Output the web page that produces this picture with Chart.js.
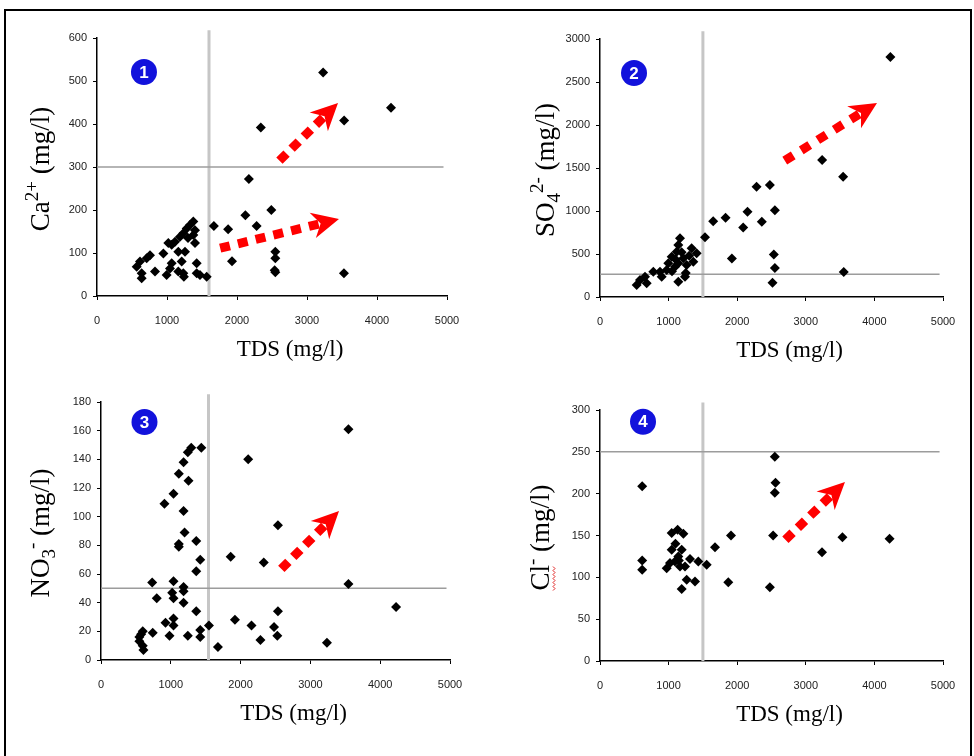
<!DOCTYPE html>
<html>
<head>
<meta charset="utf-8">
<script src="https://cdn.jsdelivr.net/npm/chart.js@4.4.1/dist/chart.umd.min.js"></script>
<style>
  html, body { margin: 0; padding: 0; background: #fff; }
  body { width: 974px; height: 756px; position: relative; overflow: hidden; }
  #frame { position: absolute; left: 4px; top: 9px; width: 964px; height: 800px; border: 2px solid #000; }
  canvas { position: absolute; }
</style>
</head>
<body>
<div id="frame"></div>
<canvas id="pCa"></canvas>
<canvas id="pSo4"></canvas>
<canvas id="pNo3"></canvas>
<canvas id="pCl"></canvas>
<script>
// tick labels
const xTicks = [0, 1000, 2000, 3000, 4000, 5000];
const caTicks = [0, 100, 200, 300, 400, 500, 600];
const so4Ticks = [0, 500, 1000, 1500, 2000, 2500, 3000];
const no3Ticks = [0, 20, 40, 60, 80, 100, 120, 140, 160, 180];
const clTicks = [0, 50, 100, 150, 200, 250, 300];

// panel 1 : Ca2+ vs TDS
const tdsCa = [3230, 4200, 3530, 2340, 2170, 2120, 2490, 2280, 1670, 1873, 1929, 2547, 2547, 2538, 2547, 3528, 1567,
  1376, 1329, 1281, 1400, 1233, 1376, 1186, 1114, 1067, 1400, 1019, 1162, 1257, 948, 757, 710, 614, 567,
  1067, 1210, 1424, 1043, 829, 638, 995, 1162, 1233, 1424, 1471, 638, 1241, 1300];
const ca = [520, 438, 408, 392, 272, 188, 200, 163, 163, 155, 81, 103, 88, 60, 55, 53, 45,
  173, 165, 157, 153, 146, 142, 138, 126, 119, 123, 123, 103, 103, 99, 95, 88, 80, 68,
  76, 80, 76, 64, 57, 53, 49, 57, 53, 53, 49, 41, 45, 135];

// panel 2 : SO4 2- vs TDS
const tdsSo4 = [4233, 3238, 3544, 2282, 2476, 2549, 2150, 2359, 1830, 1650, 2087, 1531, 1922, 2534, 2549, 2515, 3553,
  1166, 1142, 1118, 1336, 1409, 1045, 1215, 1360, 996, 1142, 1263, 972, 1093, 875, 777, 899, 1239, 1142,
  656, 583, 535, 681, 1100, 1300, 1190, 1050, 1250];
const so4 = [2790, 1593, 1399, 1282, 1302, 1010, 991, 874, 921, 882, 808, 694, 447, 494, 338, 167, 291,
  682, 605, 527, 566, 508, 469, 450, 411, 392, 392, 372, 314, 352, 294, 294, 236, 236, 178,
  236, 198, 140, 159, 440, 480, 520, 300, 280];

// panel 3 : NO3- vs TDS
const tdsNo3 = [3545, 2109, 4227, 3545, 2535, 2535, 2332, 1858, 1919, 2156, 2284, 2479, 2526, 3237, 1675,
  1437, 1293, 1244, 1183, 1115, 1254, 1039, 909, 1183, 1197, 1115, 1115, 1365, 1422, 1365, 733, 1039,
  1183, 1183, 799, 1039, 1183, 1365, 1039, 924, 1039, 981, 1244, 1422, 1422, 1546, 741, 598, 550, 550,
  598, 608, 575, 1020];
const no3 = [161, 140, 37, 53, 94, 34, 68, 72, 28, 24, 14, 23, 17, 12, 9,
  148, 148, 145, 138, 130, 125, 116, 109, 104, 89, 81, 79, 83, 70, 62, 54, 55,
  51, 48, 43, 43, 40, 34, 29, 26, 24, 17, 17, 21, 16, 24, 19, 20, 16, 13,
  10, 7, 18, 47];

// panel 4 : Cl- vs TDS
const tdsCl = [2548, 2558, 2548, 2524, 2476, 1910, 1870, 1676, 3534, 3236, 4221, 615, 615, 615,
  1132, 1045, 1215, 1045, 1191, 1142, 1312, 1433, 1555, 1020, 1093, 1239, 972, 1166, 1264, 1385, 1191, 1100, 1150];
const cl = [244, 213, 201, 150, 88, 150, 94, 136, 148, 130, 146, 209, 120, 109,
  157, 153, 152, 133, 133, 125, 122, 119, 115, 117, 119, 113, 111, 113, 97, 95, 86, 140, 120];

// guide lines (TDS limit, ion limit)
const limitsCa = [1600, 300];
const limitsSo4 = [1500, 265];
const limitsNo3 = [1540, 50];
const limitsCl = [1500, 250];

// red trend arrows: [x0, y0, x1, y1] in data units
const arrowsCa = [[2657, 323, 3443, 449], [1829, 114, 3457, 179]];
const arrowsSo4 = [[2755, 1616, 4038, 2256]];
const arrowsNo3 = [[2634, 66, 3410, 104]];
const arrowsCl = [[2755, 149, 3571, 214]];

// numbered badges: [x, y] in data units
const badgeCa = [671, 521];
const badgeSo4 = [496, 2605];
const badgeNo3 = [623, 166];
const badgeCl = [627, 286];

const SERIF = "'Liberation Serif', 'Times New Roman', serif";
const SANS = "'Liberation Sans', Arial, sans-serif";

function drawArrow(ctx, sx, sy, tx, ty) {
  const dx = tx - sx, dy = ty - sy, len = Math.hypot(dx, dy);
  const ux = dx / len, uy = dy / len, nx = -uy, ny = ux;
  const headL = 27, headW = 13, dash = 10;
  const bx = tx - ux * headL, by = ty - uy * headL;
  // shaft from the first square to just before the head, dashes fitted to length
  const x0 = sx - ux * 5, y0 = sy - uy * 5;
  const x1 = bx + ux * 6, y1 = by + uy * 6;
  const L = Math.hypot(x1 - x0, y1 - y0);
  const n = Math.max(2, Math.round((L + 9) / (dash + 9)));
  const gap = (L - n * dash) / (n - 1);
  ctx.save();
  ctx.strokeStyle = '#ff0000';
  ctx.fillStyle = '#ff0000';
  ctx.lineWidth = 9;
  ctx.setLineDash([dash, gap]);
  ctx.beginPath();
  ctx.moveTo(x0, y0);
  ctx.lineTo(x1, y1);
  ctx.stroke();
  ctx.setLineDash([]);
  ctx.beginPath();
  ctx.moveTo(tx, ty);
  ctx.lineTo(bx + nx * headW, by + ny * headW);
  ctx.lineTo(tx - ux * headL * 0.7, ty - uy * headL * 0.7);
  ctx.lineTo(bx - nx * headW, by - ny * headW);
  ctx.closePath();
  ctx.fill();
  ctx.restore();
}

// rotated y title made of normal / sup / sub pieces
function drawYTitle(ctx, cx, cy, parts, squiggle) {
  ctx.save();
  ctx.translate(cx, cy);
  ctx.rotate(-Math.PI / 2);
  ctx.fillStyle = '#000';
  ctx.textBaseline = 'alphabetic';
  const fontOf = p => (p.s ? '19px ' : '27px ') + SERIF;
  let total = 0;
  parts.forEach(p => { ctx.font = fontOf(p); total += ctx.measureText(p.t).width; });
  let x = -total / 2;
  parts.forEach((p, i) => {
    ctx.font = fontOf(p);
    const off = p.s === 'sup' ? -11 : p.s === 'sub' ? 6 : 0;
    ctx.fillText(p.t, x, 9 + off);
    const w = ctx.measureText(p.t).width;
    if (squiggle && i === 0) {
      ctx.strokeStyle = '#e02020';
      ctx.lineWidth = 1;
      ctx.beginPath();
      for (let k = 0; k <= w; k += 2) {
        const yy = 13 + (k % 4 === 0 ? 0 : 2);
        if (k === 0) ctx.moveTo(x + k, yy); else ctx.lineTo(x + k, yy);
      }
      ctx.stroke();
    }
    x += w;
  });
  ctx.restore();
}

function makePanel(id, box, cfg) {
  const cv = document.getElementById(id);
  const padL = 90, padT = 25, padR = 30, padB = 80, yW = 40, xH = 30;
  cv.width = box.r - box.l + padL + padR;
  cv.height = box.b - box.t + padT + padB;
  cv.style.left = (box.l - padL) + 'px';
  cv.style.top = (box.t - padT) + 'px';

  const yMax = cfg.yTicks[cfg.yTicks.length - 1];
  const pts = cfg.xs.map((x, i) => ({ x: x, y: cfg.ys[i] }));

  const decor = {
    id: 'decor' + id,
    afterDatasetsDraw(chart) {
      const ctx = chart.ctx, sx = chart.scales.x, sy = chart.scales.y, a = chart.chartArea;
      cfg.arrows.forEach(r => drawArrow(ctx,
        sx.getPixelForValue(r[0]), sy.getPixelForValue(r[1]),
        sx.getPixelForValue(r[2]), sy.getPixelForValue(r[3])));
      // badge
      const bx = sx.getPixelForValue(cfg.badge[0]), by = sy.getPixelForValue(cfg.badge[1]);
      ctx.save();
      ctx.fillStyle = '#1212dc';
      ctx.beginPath();
      ctx.arc(bx, by, 13, 0, Math.PI * 2);
      ctx.fill();
      ctx.fillStyle = '#fff';
      ctx.font = 'bold 17px ' + SANS;
      ctx.textAlign = 'center';
      ctx.textBaseline = 'middle';
      ctx.fillText(cfg.num, bx, by + 1);
      // x title
      ctx.fillStyle = '#000';
      ctx.font = '23px ' + SERIF;
      ctx.fillText('TDS (mg/l)', (a.left + a.right) / 2 + 18, a.bottom + 54);
      ctx.restore();
      drawYTitle(ctx, a.left + cfg.yTitleDx, (a.top + a.bottom) / 2 + 2, cfg.yTitle, cfg.squiggle);
    }
  };

  const tickFont = { family: SANS, size: 11 };
  new Chart(cv, {
    type: 'scatter',
    data: {
      datasets: [
        { data: pts, pointStyle: 'rectRot', pointRadius: 5, pointHoverRadius: 5,
          backgroundColor: '#000', borderColor: '#000', borderWidth: 0, order: 0 },
        { type: 'line', data: [{ x: cfg.limits[0], y: 0 }, { x: cfg.limits[0], y: yMax * 1.03 }],
          borderColor: '#c6c6c6', borderWidth: 3, pointRadius: 0, clip: false, order: 2 },
        { type: 'line', data: [{ x: 0, y: cfg.limits[1] }, { x: 4950, y: cfg.limits[1] }],
          borderColor: '#9c9c9c', borderWidth: 1.5, pointRadius: 0, clip: false, order: 1 }
      ]
    },
    options: {
      responsive: false,
      animation: false,
      devicePixelRatio: 1,
      layout: { padding: { left: padL - yW, top: padT, right: padR, bottom: padB - xH } },
      plugins: { legend: { display: false }, tooltip: { enabled: false } },
      events: [],
      scales: {
        x: {
          type: 'linear', min: 0, max: 5000,
          afterBuildTicks: s => { s.ticks = xTicks.map(v => ({ value: v })); },
          afterFit: s => { s.height = xH; },
          ticks: { color: '#222', padding: 14, maxRotation: 0, font: tickFont, callback: v => String(v) },
          grid: { drawOnChartArea: false, tickLength: 4, tickColor: '#000', tickWidth: 1 },
          border: { color: '#000', width: 1.5 }
        },
        y: {
          type: 'linear', min: 0, max: yMax,
          afterBuildTicks: s => { s.ticks = cfg.yTicks.map(v => ({ value: v })); },
          afterFit: s => { s.width = yW; },
          ticks: { color: '#222', padding: 6, font: tickFont, callback: v => String(v) },
          grid: { drawOnChartArea: false, tickLength: 4, tickColor: '#000', tickWidth: 1 },
          border: { color: '#000', width: 1.5 }
        }
      }
    },
    plugins: [decor]
  });
}

makePanel('pCa', { l: 97, t: 38, r: 447, b: 296 }, {
  xs: tdsCa, ys: ca, yTicks: caTicks, limits: limitsCa, arrows: arrowsCa, badge: badgeCa, num: '1',
  yTitleDx: -57, yTitle: [{ t: 'Ca' }, { t: '2+', s: 'sup' }, { t: ' (mg/l)' }]
});
makePanel('pSo4', { l: 600, t: 39, r: 943, b: 297 }, {
  xs: tdsSo4, ys: so4, yTicks: so4Ticks, limits: limitsSo4, arrows: arrowsSo4, badge: badgeSo4, num: '2',
  yTitleDx: -55, yTitle: [{ t: 'SO' }, { t: '4', s: 'sub' }, { t: '2-', s: 'sup' }, { t: ' (mg/l)' }]
});
makePanel('pNo3', { l: 101, t: 402, r: 450, b: 660 }, {
  xs: tdsNo3, ys: no3, yTicks: no3Ticks, limits: limitsNo3, arrows: arrowsNo3, badge: badgeNo3, num: '3',
  yTitleDx: -61, yTitle: [{ t: 'NO' }, { t: '3', s: 'sub' }, { t: '-', s: 'sup' }, { t: ' (mg/l)' }]
});
makePanel('pCl', { l: 600, t: 410, r: 943, b: 661 }, {
  xs: tdsCl, ys: cl, yTicks: clTicks, limits: limitsCl, arrows: arrowsCl, badge: badgeCl, num: '4',
  yTitleDx: -60, squiggle: true, yTitle: [{ t: 'Cl' }, { t: '-', s: 'sup' }, { t: ' (mg/l)' }]
});
</script>
</body>
</html>
